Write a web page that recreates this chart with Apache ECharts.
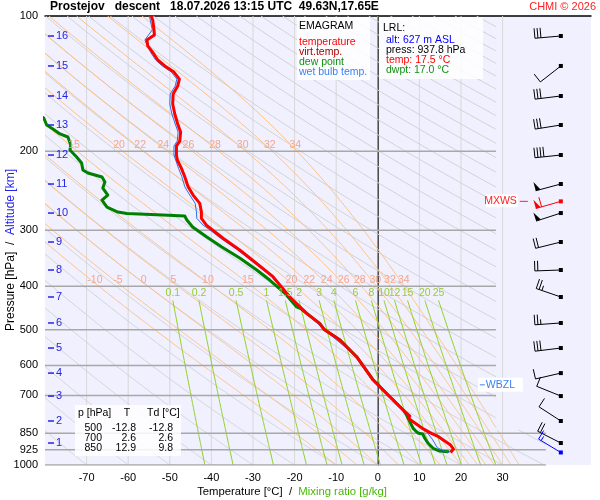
<!DOCTYPE html>
<html>
<head>
<meta charset="utf-8">
<title>Emagram Prostejov</title>
<script src="https://cdn.jsdelivr.net/npm/echarts@6.0.0/dist/echarts.min.js"></script>
<style>
  html, body { margin: 0; padding: 0; background: #fff; }
  #chart { width: 600px; height: 500px; }
</style>
</head>
<body>
<div id="chart"></div>
<script>
// sounding (p in hPa, T in deg C)
var tempP = [100, 102.1, 107.4, 110.2, 113.1, 116.6, 120.9, 125.3, 129.2, 133.3, 138.2, 143.2, 149.2, 157.0, 165.3, 174.0, 181.3, 189.9, 194.7, 204.0, 209.3, 218.4, 228.0, 240.0, 250.5, 261.4, 272.9, 282.3, 292.2, 302.3, 312.6, 332.0, 355.4, 380.7, 421.9, 459.4, 483.6, 500, 526.8, 573.9, 646.8, 700, 754.2, 778, 787, 828.6, 850, 865, 902.8, 921.3, 937.8];
var tempT = [-54.5, -54.1, -53.8, -53.7, -55.5, -55.3, -54.0, -52.9, -51.2, -49.0, -47.7, -48.1, -49.2, -49.3, -48.8, -48.1, -47.4, -47.6, -48.4, -48.4, -48.2, -47.2, -46.4, -45.6, -44.4, -42.8, -42.4, -42.4, -41.2, -39.2, -37.2, -33.2, -29.2, -25.2, -21.2, -17.1, -14.0, -12.8, -9.1, -5.1, -1.1, 2.6, 6.1, 7.7, 7.3, 10.7, 12.9, 14.6, 17.5, 18.2, 17.5];

var dewP = [160, 168.7, 174.9, 178.5, 183.1, 186.0, 193.8, 198.8, 206.1, 212.5, 220.3, 223.7, 228.4, 234.3, 241.6, 250.5, 257.0, 266.4, 273.3, 275.4, 277.5, 278.9, 284.7, 295.1, 310.6, 327.0, 345.9, 367.9, 387.3, 414.0, 444.7, 449.3, 459.4, 483.6, 500, 526.8, 573.9, 646.8, 700, 754.2, 760.7, 773.6, 800.9, 828.6, 843.1, 850, 853, 872, 894.7, 918, 930.9, 934.1, 937.8];
var dewT = [-84, -80.3, -79.6, -78.1, -76.4, -74.5, -73.8, -74.0, -72.4, -71.2, -70.9, -69.7, -66.3, -65.6, -66.1, -64.9, -66.3, -65.1, -62.5, -60.3, -51.7, -46.4, -45.9, -44.5, -41.1, -37.5, -33.2, -29.1, -26.0, -22.4, -19.5, -18.4, -17.1, -14.0, -12.8, -9.1, -5.1, -1.1, 2.6, 6.1, 6.5, 6.9, 7.7, 8.5, 9.3, 9.8, 10.8, 11.3, 12.1, 13.3, 14.9, 16.9, 17.0];

var wetP = [100, 107.4, 113.1, 120.9, 125.3, 129.2, 133.3, 138.2, 143.2, 149.2, 157.0, 165.3, 174.0, 181.3, 189.9, 194.7, 204.0, 218.4, 228.0, 240.0, 250.5, 261.4, 272.9, 282.3, 292.2, 302.3, 312.6, 332.0, 355.4, 380.7, 421.9, 459.4, 500, 573.9, 646.8, 700, 754.2, 780, 808, 838, 876, 915, 931, 937.8];
var wetT = [-54.9, -54.2, -56.0, -54.5, -53.4, -51.8, -49.6, -48.3, -48.7, -49.9, -50.0, -49.5, -48.7, -48.0, -48.2, -49.0, -49.0, -47.9, -47.1, -46.4, -45.2, -43.9, -43.6, -43.5, -42.0, -39.8, -37.8, -33.7, -29.6, -25.5, -21.4, -17.2, -12.8, -5.1, -1.1, 2.6, 6.1, 7.3, 9.0, 11.5, 13.1, 14.3, 16.0, 17.2];

// wind: kind 0 = normal, 1 = max wind, 2 = surface
var windP   = [110.8, 129.2, 150.7, 174.9, 204.0, 236.7, 258.7, 274.7, 318.7, 367.9, 422.5, 482.7, 548.9, 624.2, 702.2, 798, 893.4, 937.8];
var windDir = [265, 232, 263, 261, 264, 255, 254, 252, 256, 268, 289, 266, 263, 257, 292, 303, 297, 301];
var windSpd = [30, 10, 30, 30, 40, 50, 60, 50, 20, 20, 25, 25, 30, 10, 10, 10, 20, 15];
var windKind = [0, 0, 0, 0, 0, 0, 1, 0, 0, 0, 0, 0, 0, 0, 0, 0, 0, 2];

var altKm = [1, 2, 3, 4, 5, 6, 7, 8, 9, 10, 11, 12, 13, 14, 15, 16];
var altP  = [893.4, 798, 702.2, 624.2, 548.9, 482.7, 422.5, 367.9, 318.7, 274.7, 236.7, 204.0, 174.9, 150.7, 129.2, 110.8];

var pLevels = [100, 200, 300, 400, 500, 600, 700, 850, 925, 1000];
var tLabels = [-70, -60, -50, -40, -30, -20, -10, 0, 10, 20, 30];
var thetaW = [-10, -5, 0, 5, 10, 15, 20, 22, 24, 26, 28, 30, 32, 34];
var mixRatio = [0.1, 0.2, 0.5, 1, 1.5, 2, 3, 4, 6, 8, 10, 12, 15, 20, 25];

var tableP = [500, 700, 850];
var tableT = [-12.8, 2.6, 12.9];
var tableTd = [-12.8, 2.6, 9.8];

var lrlAlt = 627, lrlP = 937.8, lrlT = 17.5, lrlTd = 17.0;
var maxWindP = 258.7, wbzlP = 663;

// diagram frame
var T_MIN = -80, T_MAX = 51.25;     // 546 px wide grid
var BARB_T = 44;                    // column of the wind barbs
function rightEdge(p) { return p < 835 ? 28.4 : 40.4; }

var F = '10.5px "Liberation Sans"';

function zip(t, p) { return t.map(function (v, i) { return [v, p[i]]; }); }

// cut a curve to the diagram area
function edgePoint(a, b) {
  if (a[0] >= T_MIN && rightEdge(a[1]) !== rightEdge(b[1])) return b;
  var bound = a[0] < T_MIN ? T_MIN : rightEdge(b[1]);
  var f = (bound - a[0]) / (b[0] - a[0]);
  return [bound, a[1] + f * (b[1] - a[1])];
}
function clip(pts) {
  var segs = [], cur = [], prev = null, prevIn = false;
  pts.forEach(function (q) {
    var inside = q[0] >= T_MIN && q[0] <= rightEdge(q[1]);
    if (inside && !prevIn && prev) cur.push(edgePoint(prev, q));
    if (inside) cur.push(q);
    if (!inside && prevIn) { cur.push(edgePoint(q, prev)); segs.push(cur); cur = []; }
    prev = q; prevIn = inside;
  });
  if (cur.length > 1) segs.push(cur);
  return segs;
}
function tAt(pts, p) {
  for (var i = 1; i < pts.length; i++) {
    if (pts[i][1] >= p) {
      var f = (p - pts[i - 1][1]) / (pts[i][1] - pts[i - 1][1]);
      return pts[i - 1][0] + f * (pts[i][0] - pts[i - 1][0]);
    }
  }
  return pts[pts.length - 1][0];
}

function dryAdiabat(thC) {
  var pts = [];
  for (var p = 100; p <= 1000; p += 2) pts.push([(thC + 273.15) * Math.pow(p / 1000, 0.2857) - 273.15, p]);
  return pts;
}
function lapse(T, p) {
  var es = 6.112 * Math.exp(17.67 * (T - 273.15) / (T - 29.65));
  var rs = 0.622 * es / (p - es);
  return (287.04 * T + 2.501e6 * rs) / p / (1005.7 + 2.501e6 * 2.501e6 * rs * 0.622 / (287.04 * T * T));
}
function moistAdiabat(twC) {
  var T = twC + 273.15, p = 1000, pts = [[twC, 1000]];
  while (p > 100) {
    var dp = -2;
    var k1 = lapse(T, p);
    var k2 = lapse(T + k1 * dp / 2, p + dp / 2);
    T += k2 * dp; p += dp;
    pts.push([T - 273.15, p]);
  }
  return pts.reverse();
}
function mixLine(w) {
  var pts = [];
  for (var p = 430; p <= 1000; p += 5) {
    var l = Math.log(w * p / (622 + w) / 6.112);
    pts.push([243.5 * l / (17.67 - l), p]);
  }
  return pts;
}

var drySegs = [], moistSegs = [], mixSegs = [];
for (var th = -80; th <= 310; th += 10) drySegs = drySegs.concat(clip(dryAdiabat(th)));
var moistCurves = thetaW.map(moistAdiabat);
moistCurves.forEach(function (c) { moistSegs = moistSegs.concat(clip(c)); });
var mixCurves = mixRatio.map(mixLine);
mixCurves.forEach(function (c) { mixSegs = mixSegs.concat(clip(c)); });

var isoSegs = tLabels.filter(function (t) { return t !== 0; }).map(function (t) { return [[t, 100], [t, 1000]]; });
var presSegs = pLevels.slice(1).map(function (p) { return [[T_MIN, p], [rightEdge(p), p]]; });

// label places on the background curves
var twLabPts = [], twLabTxt = [];
moistCurves.forEach(function (c, i) {
  twLabPts.push([tAt(c, 387), 387]); twLabTxt.push(String(thetaW[i]));
  var t2 = tAt(c, 194);
  if (t2 > T_MIN + 2 && thetaW[i] >= 15) { twLabPts.push([t2, 194]); twLabTxt.push(String(thetaW[i])); }
});
var mixLabPts = mixCurves.map(function (c) { return [c[0][0], 414]; });
var mixLabTxt = mixRatio.map(String);

function linesSeries(segs, color, width, z) {
  return {
    type: 'lines', coordinateSystem: 'cartesian2d', polyline: true, silent: true, z: z,
    lineStyle: { color: color, width: width, opacity: 1 },
    data: segs.map(function (s) { return { coords: s }; })
  };
}
function textSeries(pts, texts, color, font, align, dx) {
  return {
    type: 'custom', silent: true, z: 6, data: pts,
    renderItem: function (params, api) {
      var c = api.coord([api.value(0), api.value(1)]);
      return { type: 'text', style: { text: texts[params.dataIndex], x: c[0] + (dx || 0), y: c[1],
        fill: color, font: font, align: align || 'center', verticalAlign: 'middle' } };
    }
  };
}
function profile(data, color, width, z) {
  return { type: 'line', data: data, symbol: 'none', silent: true, z: z, clip: true,
    lineStyle: { color: color, width: width, join: 'round' } };
}

var barbColors = ['#000', '#ff0000', '#0000ff'];
function renderBarb(params, api) {
  var i = params.dataIndex;
  var c = api.coord([BARB_T, windP[i]]);
  var col = barbColors[windKind[i]];
  var a = windDir[i] * Math.PI / 180;
  var dx = Math.sin(a), dy = -Math.cos(a);
  var nx = -dy, ny = dx;
  var ex = c[0] + dx * 26, ey = c[1] + dy * 26;
  var kids = [
    { type: 'line', shape: { x1: c[0], y1: c[1], x2: ex, y2: ey }, style: { stroke: col, lineWidth: 1 } },
    { type: 'rect', shape: { x: c[0] - 2, y: c[1] - 2, width: 4, height: 4 }, style: { fill: col } }
  ];
  var s = windSpd[i], pos = 0;
  while (s >= 50) {
    var bx = ex - dx * pos, by = ey - dy * pos;
    kids.push({ type: 'polygon', shape: { points: [[bx, by], [bx - dx * 5, by - dy * 5], [bx + nx * 9, by + ny * 9]] }, style: { fill: col } });
    pos += 6; s -= 50;
  }
  while (s >= 5) {
    var len = s >= 10 ? 10 : 5;
    var fx = ex - dx * pos, fy = ey - dy * pos;
    kids.push({ type: 'line', shape: { x1: fx, y1: fy, x2: fx + nx * len, y2: fy + ny * len }, style: { stroke: col, lineWidth: 1 } });
    pos += 3; s -= len;
  }
  return { type: 'group', children: kids };
}

function renderMarks(params, api) {
  var c = api.coord([BARB_T, api.value(1)]);
  if (params.dataIndex === 0) {
    return { type: 'group', children: [
      { type: 'rect', shape: { x: c[0] - 75, y: c[1] - 7, width: 32, height: 13 }, style: { fill: '#fff' } },
      { type: 'text', style: { text: 'MXWS', x: c[0] - 44, y: c[1], fill: '#ff2020', font: F, align: 'right', verticalAlign: 'middle' } },
      { type: 'line', shape: { x1: c[0] - 41, y1: c[1], x2: c[0] - 33, y2: c[1] }, style: { stroke: '#ff2020', lineWidth: 1 } }
    ] };
  }
  return { type: 'group', children: [
    { type: 'rect', shape: { x: c[0] - 83, y: c[1] - 7, width: 45, height: 14 }, style: { fill: '#fff' } },
    { type: 'line', shape: { x1: c[0] - 81, y1: c[1], x2: c[0] - 76, y2: c[1] }, style: { stroke: '#3a7ff0', lineWidth: 1 } },
    { type: 'text', style: { text: 'WBZL', x: c[0] - 75, y: c[1], fill: '#3a7ff0', font: F, align: 'left', verticalAlign: 'middle' } }
  ] };
}

function renderAlt(params, api) {
  var c = api.coord([T_MIN, api.value(1)]);
  return { type: 'group', children: [
    { type: 'line', shape: { x1: c[0] + 3, y1: c[1], x2: c[0] + 9, y2: c[1] }, style: { stroke: '#2424e8', lineWidth: 1.5 } },
    { type: 'text', style: { text: String(altKm[params.dataIndex]), x: c[0] + 11, y: c[1], fill: '#2424e8',
      font: '11px "Liberation Sans"', align: 'left', verticalAlign: 'middle' } }
  ] };
}

function txt(x, y, s, color, align, font) {
  return { type: 'text', z: 100, style: { x: x, y: y, text: s, fill: color, font: font || F,
    align: align || 'left', verticalAlign: 'middle' } };
}
function box(x, y, w, h) {
  return { type: 'rect', z: 99, shape: { x: x, y: y, width: w, height: h }, style: { fill: 'rgba(255,255,255,0.85)' } };
}

var F12 = '12px "Liberation Sans"';
var graphics = [
  txt(50, 7, 'Prostejov   descent   18.07.2026 13:15 UTC  49.63N,17.65E', '#000', 'left', 'bold 12px "Liberation Sans"'),
  txt(596, 7, 'CHMI \u00a9 2026', '#ff2020', 'right', '11px "Liberation Sans"'),
  box(297, 17, 73, 63),
  txt(299, 26, 'EMAGRAM', '#000'),
  txt(299, 42, 'temperature', '#ff0000'),
  txt(299, 52, 'virt.temp.', '#a00000'),
  txt(299, 62, 'dew point', '#109010'),
  txt(299, 72, 'wet bulb temp.', '#3a7ff0'),
  box(379, 17, 104, 62),
  txt(383, 28, 'LRL:', '#000'),
  txt(386, 40, 'alt: ' + lrlAlt + ' m ASL', '#0000ff'),
  txt(386, 50, 'press: ' + lrlP.toFixed(1) + ' hPa', '#000'),
  txt(386, 60, 'temp: ' + lrlT.toFixed(1) + ' \u00b0C', '#ff0000'),
  txt(386, 70, 'dwpt: ' + lrlTd.toFixed(1) + ' \u00b0C', '#109010'),
  box(75, 405, 106, 51),
  txt(78, 413, 'p [hPa]', '#000'),
  txt(127, 413, 'T', '#000', 'center'),
  txt(147, 413, 'Td [\u00b0C]', '#000'),
  {
    type: 'text', z: 100, x: 292, y: 492,
    style: { text: '{a|Temperature [\u00b0C]  /  }{g|Mixing ratio [g/kg]}', align: 'center', verticalAlign: 'middle',
      rich: { a: { fill: '#000', font: '11.3px "Liberation Sans"' }, g: { fill: '#44bb00', font: '11.3px "Liberation Sans"' } } }
  },
  {
    type: 'text', z: 100, x: 11, y: 250, rotation: Math.PI / 2,
    style: { text: '{a|Pressure [hPa]  /  }{b|Altitude [km]}', align: 'center', verticalAlign: 'middle',
      rich: { a: { fill: '#000', font: F12 }, b: { fill: '#2424e8', font: F12 } } }
  }
];
tableP.forEach(function (p, i) {
  var y = 428 + i * 10;
  graphics.push(txt(102, y, String(p), '#000', 'right'));
  graphics.push(txt(136, y, tableT[i].toFixed(1), '#000', 'right'));
  graphics.push(txt(173, y, tableTd[i].toFixed(1), '#000', 'right'));
});

var chart = echarts.init(document.getElementById('chart'));
chart.setOption({
  animation: false,
  textStyle: { fontFamily: 'Liberation Sans' },
  grid: { left: 45, right: 9, top: 16, bottom: 35, show: true, backgroundColor: '#f0f0ff', borderWidth: 0 },
  xAxis: [{
    type: 'value', min: T_MIN, max: T_MAX, interval: 10,
    axisLine: { show: false }, axisTick: { show: false }, splitLine: { show: false },
    axisLabel: { color: '#000', fontSize: 11, margin: 7,
      formatter: function (v) { return tLabels.indexOf(v) >= 0 ? String(v) : ''; } }
  }, {
    type: 'value', position: 'top', min: T_MIN, max: T_MAX,
    axisLine: { show: true, lineStyle: { color: '#000', width: 1.5 } },
    axisTick: { show: false }, axisLabel: { show: false }, splitLine: { show: false }
  }],
  yAxis: {
    type: 'log', logBase: 10, min: 100, max: 1000, inverse: true,
    axisLine: { show: true, lineStyle: { color: '#000', width: 1 } },
    axisTick: { show: false }, axisLabel: { show: false }, splitLine: { show: false }, minorSplitLine: { show: false }
  },
  graphic: graphics,
  series: [
    linesSeries(isoSegs, '#d8d8d8', 1, 1),
    linesSeries([[[0, 100], [0, 1000]]], '#909090', 1.5, 1),
    linesSeries(drySegs, '#d2d2d2', 1, 1),
    linesSeries(moistSegs, '#ffc080', 1, 1),
    linesSeries(mixSegs, '#90d020', 1, 1),
    linesSeries(presSegs, '#a8a8a8', 1.5, 2),
    textSeries(twLabPts, twLabTxt, '#f5a58c', F, 'center', 4),
    textSeries(mixLabPts, mixLabTxt, '#99cc33', F),
    textSeries(pLevels.map(function (p) { return [T_MIN, p]; }), pLevels.map(String), '#000', '11px "Liberation Sans"', 'right', -7),
    { type: 'custom', silent: true, z: 6, data: altP.map(function (p) { return [T_MIN, p]; }), renderItem: renderAlt },
    profile(zip(dewT, dewP), '#008000', 3, 3),
    profile(zip(wetT, wetP), '#2a6ee6', 1, 4),
    profile(zip(tempT, tempP), '#ff0000', 3, 5),
    { type: 'custom', silent: true, z: 7, data: windP.map(function (p) { return [BARB_T, p]; }), renderItem: renderBarb },
    { type: 'custom', silent: true, z: 8, data: [[BARB_T, maxWindP], [BARB_T, wbzlP]], renderItem: renderMarks }
  ]
});
</script>
</body>
</html>
